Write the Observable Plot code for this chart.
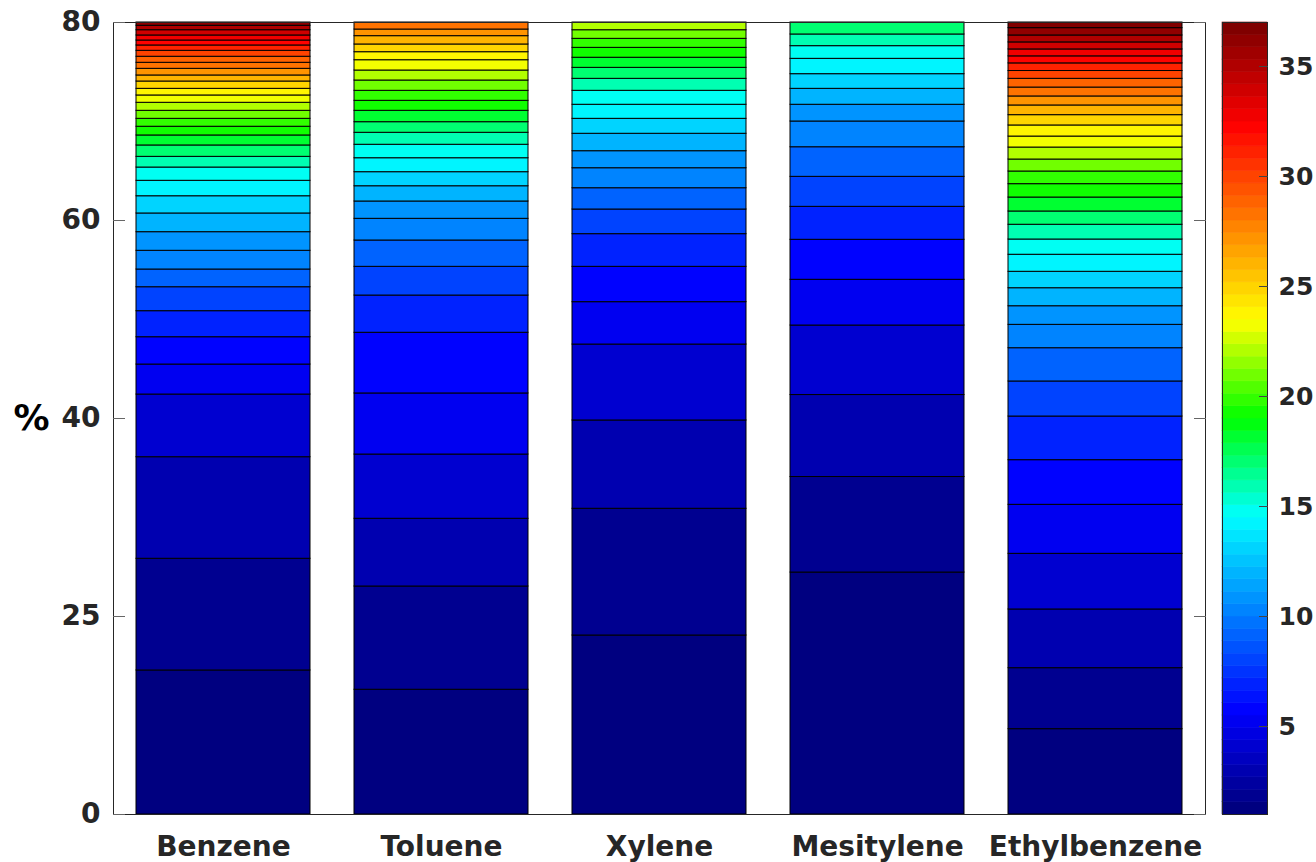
<!DOCTYPE html>
<html><head><meta charset="utf-8">
<script src="https://cdn.jsdelivr.net/npm/d3@7"></script>
<script src="https://cdn.jsdelivr.net/npm/@observablehq/plot@0.6"></script>
<style>
body{margin:0;background:#fff;}
#wrap{position:relative;width:1316px;height:862px;overflow:hidden;}
#main{position:absolute;left:0;top:0;}
#cbar{position:absolute;left:1221px;top:0;}
</style></head><body>
<div id="wrap"><div id="main"></div><div id="cbar"></div></div>
<script>
// ---- data (segment heights, bottom to top) ----
const categories = ["Benzene", "Toluene", "Xylene", "Mesitylene", "Ethylbenzene"];
const benzene = [14.55, 11.28, 10.26, 6.33, 3.03, 2.76, 2.63, 2.42, 1.79, 1.89, 1.88, 1.89, 1.74, 1.56, 1.34, 1.08, 1.15, 1.01, 0.88, 0.80, 0.81, 0.81, 0.74, 0.67, 0.74, 0.61, 0.67, 0.61, 0.61, 0.60, 0.54, 0.50, 0.51, 0.53, 0.45, 0.33];
const toluene = [12.60, 10.43, 6.84, 6.49, 6.17, 6.13, 3.76, 2.90, 2.66, 2.19, 1.75, 1.54, 1.42, 1.41, 1.36, 1.21, 1.07, 1.15, 1.01, 1.01, 1.04, 1.01, 1.04, 0.81, 0.78, 0.84, 0.67, 0.71];
const xylene = [18.08, 12.80, 8.92, 7.67, 4.28, 3.57, 3.30, 2.49, 2.15, 2.02, 1.72, 1.76, 1.51, 1.42, 1.41, 1.21, 1.11, 1.02, 1.00, 0.91, 0.87, 0.78];
const mesitylene = [24.44, 9.65, 8.28, 7.02, 4.62, 4.04, 3.33, 3.03, 2.99, 2.60, 1.69, 1.61, 1.48, 1.55, 1.28, 1.18, 1.21];
const ethylbenzene = [8.62, 6.16, 5.93, 5.62, 4.95, 4.51, 4.41, 3.54, 3.36, 2.36, 1.88, 1.82, 1.66, 1.72, 1.54, 1.49, 1.34, 1.41, 1.35, 1.28, 1.21, 1.21, 1.11, 1.12, 1.04, 0.98, 0.91, 0.90, 0.88, 0.79, 0.77, 0.71, 0.70, 0.71, 0.70, 0.74, 0.57];
const yTicks = [0, 20, 40, 60, 80];
const yTickLabels = ["0", "25", "40", "60", "80"];
const colorTicks = [5, 10, 15, 20, 25, 30, 35];
const colorDomain = [1, 37];
const colorLevels = 64;

// ---- jet-like colormap, quantized ----
const jetStops = [[0, [0, 0, 0.5]], [0.125, [0, 0, 1]], [0.375, [0, 1, 1]], [0.5, [0, 1, 0]], [0.625, [1, 1, 0]], [0.875, [1, 0, 0]], [1, [0.5, 0, 0]]];
function jetRaw(t) {
  t = Math.max(0, Math.min(1, t));
  for (let i = 1; i < jetStops.length; i++) {
    const [t0, c0] = jetStops[i - 1], [t1, c1] = jetStops[i];
    if (t <= t1) {
      const f = (t - t0) / (t1 - t0);
      const c = c0.map((v, k) => Math.round(255 * (v + (c1[k] - v) * f)));
      return `rgb(${c[0]},${c[1]},${c[2]})`;
    }
  }
  return "rgb(128,0,0)";
}
function jet(t) {
  const lvl = Math.min(colorLevels - 1, Math.max(0, Math.floor(t * colorLevels + 1e-9)));
  return jetRaw(lvl / (colorLevels - 1));
}
const colorScale = {type: "linear", domain: colorDomain, interpolate: jet};

const series = [benzene, toluene, xylene, mesitylene, ethylbenzene];
const rows = [];
categories.forEach((cat, c) => series[c].forEach((v, i) => rows.push({cat, idx: i + 1, value: v})));

const font = "'DejaVu Sans', sans-serif";

const main = Plot.plot({
  width: 1316, height: 862,
  marginTop: 22, marginBottom: 48, marginLeft: 113, marginRight: 111,
  style: {fontFamily: font, fontWeight: "bold", color: "#262626", background: "transparent"},
  x: {domain: categories, paddingInner: 0.2, paddingOuter: 0.1, label: null},
  y: {domain: [0, 80], label: null},
  color: colorScale,
  marks: [
    Plot.barY(rows, {x: "cat", y: "value", fill: "idx", stroke: "#000", strokeWidth: 1}),
    Plot.frame({stroke: "#262626"}),
    Plot.axisY({ticks: yTicks, tickFormat: d => yTickLabels[yTicks.indexOf(d)], tickSize: -12, tickPadding: 25, fontSize: 28, stroke: "#666", label: null}),
    Plot.axisY({anchor: "right", ticks: yTicks, tickFormat: () => "", tickSize: -12, stroke: "#666", label: null}),
    Plot.axisX({tickSize: 0, tickPadding: 22, fontSize: 28, label: null}),
    Plot.text(["%"], {frameAnchor: "left", textAnchor: "middle", dx: -82, fontSize: 36, fill: "#000", fontWeight: "bold"})
  ]
});
document.getElementById("main").appendChild(main);

const bands = d3.range(colorLevels).map(i => {
  const span = colorDomain[1] - colorDomain[0];
  const y1 = colorDomain[0] + span * i / colorLevels;
  const y2 = colorDomain[0] + span * (i + 1) / colorLevels;
  return {y1, y2, v: (y1 + y2) / 2};
});
const cbar = Plot.plot({
  width: 95, height: 862,
  marginTop: 22, marginBottom: 48, marginLeft: 1, marginRight: 49,
  style: {fontFamily: font, fontWeight: "bold", color: "#262626", background: "transparent"},
  x: {domain: [0, 1], axis: null},
  y: {domain: colorDomain, label: null},
  color: colorScale,
  marks: [
    Plot.rectY(bands, {x1: 0, x2: 1, y1: "y1", y2: "y2", fill: "v", stroke: "v", strokeWidth: 0.6}),
    Plot.frame({stroke: "#262626"}),
    Plot.axisY({anchor: "right", ticks: colorTicks, tickSize: -9, tickPadding: 20, fontSize: 25, stroke: "#444", label: null})
  ]
});
document.getElementById("cbar").appendChild(cbar);
</script>
</body></html>
